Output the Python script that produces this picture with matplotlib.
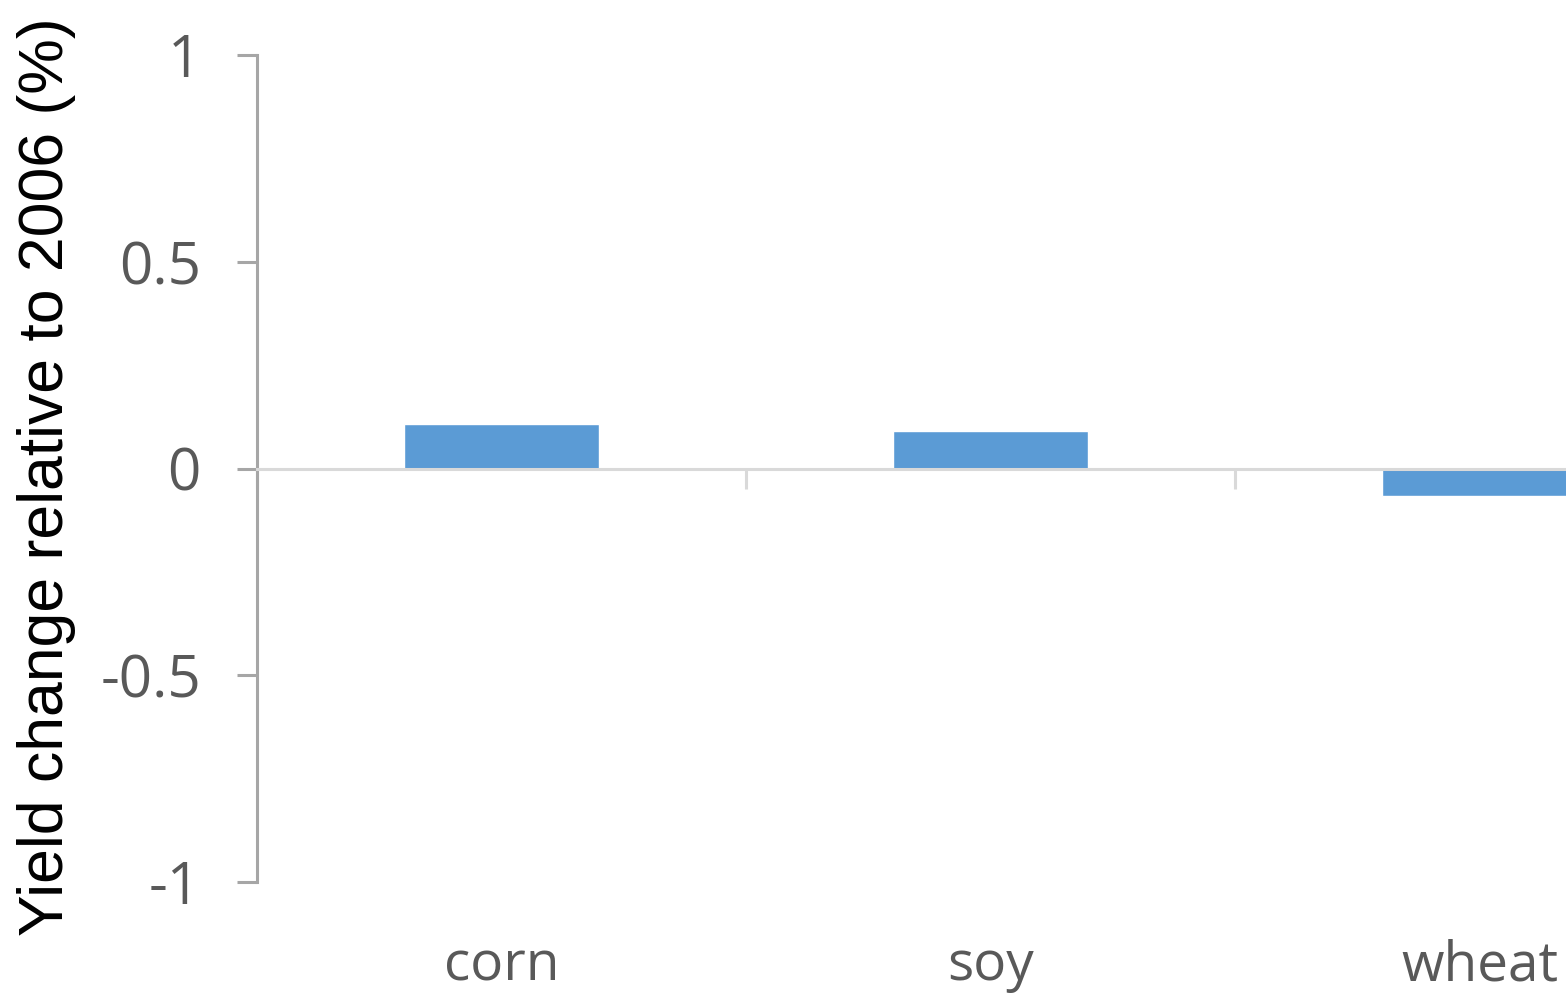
import numpy as np
import matplotlib.pyplot as plt
from matplotlib import transforms

crops = ['corn', 'soy', 'wheat']
yield_change = [0.108, 0.091, -0.066]

bar_color = '#5b9bd5'
tick_grey = '#595959'
label_font = ['Open Sans', 'DejaVu Sans']

fig = plt.figure(figsize=(15.66, 9.96), dpi=100)
# axes runs past the right edge of the figure, so the last bar gets cut off
ax = fig.add_axes([257 / 1566, 114 / 996, 1467 / 1566, 827 / 996])

x = np.arange(len(crops))
ax.bar(x, yield_change, width=0.4, color=bar_color, edgecolor='white', linewidth=1, zorder=2)

ax.set_xlim(-0.5, len(crops) - 0.5)
ax.set_ylim(-1, 1)
ax.set_yticks([-1, -0.5, 0, 0.5, 1])
ax.set_yticklabels(['-1', '-0.5', '0', '0.5', '1'])

for s in ['top', 'right']:
    ax.spines[s].set_visible(False)
ax.spines['left'].set_color('#a6a6a6')
ax.spines['left'].set_linewidth(2.2)
ax.spines['bottom'].set_position(('data', 0))
ax.spines['bottom'].set_color('#d9d9d9')
ax.spines['bottom'].set_linewidth(2.2)
ax.spines['bottom'].set_zorder(3)

ax.tick_params(axis='y', direction='out', length=14.4, width=2.2, color='#a6a6a6',
               pad=26, labelsize=42, labelcolor=tick_grey)
for lab in ax.get_yticklabels():
    lab.set_family(label_font)

# category boundary ticks on the zero line, names placed below the plot
ax.set_xticks(np.arange(len(crops) + 1) - 0.5)
ax.set_xticklabels([])
ax.tick_params(axis='x', direction='out', length=14.4, width=2.2, color='#d9d9d9')

trans = transforms.blended_transform_factory(ax.transData, ax.transAxes)
for i, name in enumerate(crops):
    ax.text(i, -0.119, name, transform=trans, ha='center', va='baseline',
            fontsize=39.5, color=tick_grey, family=label_font)

fig.text(47 / 1566, 0.521, 'Yield change relative to 2006 (%)', rotation=90,
         ha='center', va='center', fontsize=45, color='black',
         family=['Liberation Sans', 'DejaVu Sans'])

fig.savefig('out.png', dpi=100)
